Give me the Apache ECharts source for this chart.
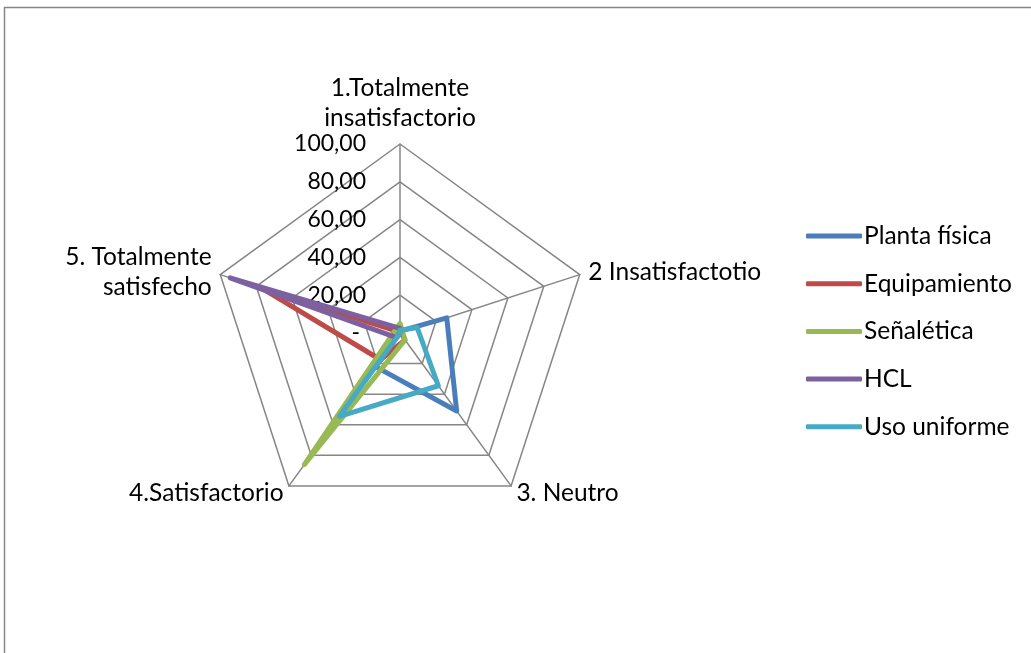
<!DOCTYPE html>
<html>
<head>
<meta charset="utf-8">
<script src="https://cdn.jsdelivr.net/npm/echarts@6/dist/echarts.min.js"></script>
<style>
  html, body { margin: 0; padding: 0; background: #ffffff; }
  #chart { width: 1031px; height: 653px; }
</style>
</head>
<body>
<div id="chart"></div>
<script>
// Survey satisfaction levels (radar axes, read clockwise from the top)
const categories = [
  '1.Totalmente\ninsatisfactorio',
  '2 Insatisfactotio',
  '3. Neutro',
  '4.Satisfactorio',
  '5. Totalmente\nsatisfecho'
];

// Percentage of answers per level, one array per aspect
const seriesNames = ['Planta física', 'Equipamiento', 'Señalética', 'HCL', 'Uso uniforme'];
const plantaFisica = [1, 26, 51, 22, 0];
const equipamiento = [0.5, 0.5, 4.5, 17.5, 77];
const senaletica   = [5, 1.5, 4.5, 86, 3];
const hcl          = [2.5, 0, 0, 3, 94.5];
const usoUniforme  = [1.5, 9.5, 34.5, 54.5, 0];

const seriesValues = [plantaFisica, equipamiento, senaletica, hcl, usoUniforme];
const seriesColors = ['#4A7EBB', '#BE4B48', '#98B954', '#7D60A0', '#46AAC5'];

const axisMax = 100;
const font = 'Lato, "Open Sans", sans-serif';

// ECharts lays radar axes out counter-clockwise; keep the first axis on top
// and walk the rest backwards so the levels run clockwise.
const order = [0].concat(categories.slice(1).map((_, i) => categories.length - 1 - i));
const reorder = arr => order.map(k => arr[k]);

const chart = echarts.init(document.getElementById('chart'));

const indicators = reorder(categories).map((name, i) => {
  const ind = { name: name, min: 0, max: axisMax };
  if (i === 0) {
    ind.axisLabel = { show: true };
  }
  return ind;
});

chart.setOption({
  backgroundColor: '#ffffff',
  animation: false,
  graphic: [{
    type: 'rect',
    shape: { x: 4.5, y: 7.5, width: 1100, height: 700 },
    style: { fill: 'none', stroke: '#868686', lineWidth: 1.5 },
    silent: true
  }],
  legend: {
    orient: 'vertical',
    left: 801,
    top: 216,
    itemWidth: 56,
    itemHeight: 5,
    itemGap: 17.7,
    icon: 'roundRect',
    data: seriesNames,
    textStyle: {
      fontFamily: font,
      fontSize: 24.5,
      color: '#000000',
      lineHeight: 30,
      padding: [0, 0, 0, -3]
    }
  },
  radar: {
    center: [400, 333],
    radius: 189,
    startAngle: 90,
    splitNumber: 5,
    shape: 'polygon',
    nameGap: 9,
    indicator: indicators,
    axisName: {
      color: '#000000',
      fontFamily: font,
      fontSize: 24.5,
      lineHeight: 30
    },
    axisLine: { lineStyle: { color: '#868686', width: 1.5 } },
    splitLine: { lineStyle: { color: '#868686', width: 1.5 } },
    splitArea: { show: false },
    axisTick: { show: false },
    axisLabel: {
      show: false,
      margin: 34,
      color: '#000000',
      fontFamily: font,
      fontSize: 23,
      formatter: function (v) {
        return v === 0 ? '- ' : v.toFixed(2).replace('.', ',');
      }
    }
  },
  series: seriesNames.map((name, i) => ({
    type: 'radar',
    name: name,
    symbol: 'none',
    z: 2 + i,
    itemStyle: { color: seriesColors[i] },
    lineStyle: { color: seriesColors[i], width: 5, cap: 'round', join: 'round' },
    data: [{ value: reorder(seriesValues[i]), name: name }]
  }))
});
</script>
</body>
</html>
